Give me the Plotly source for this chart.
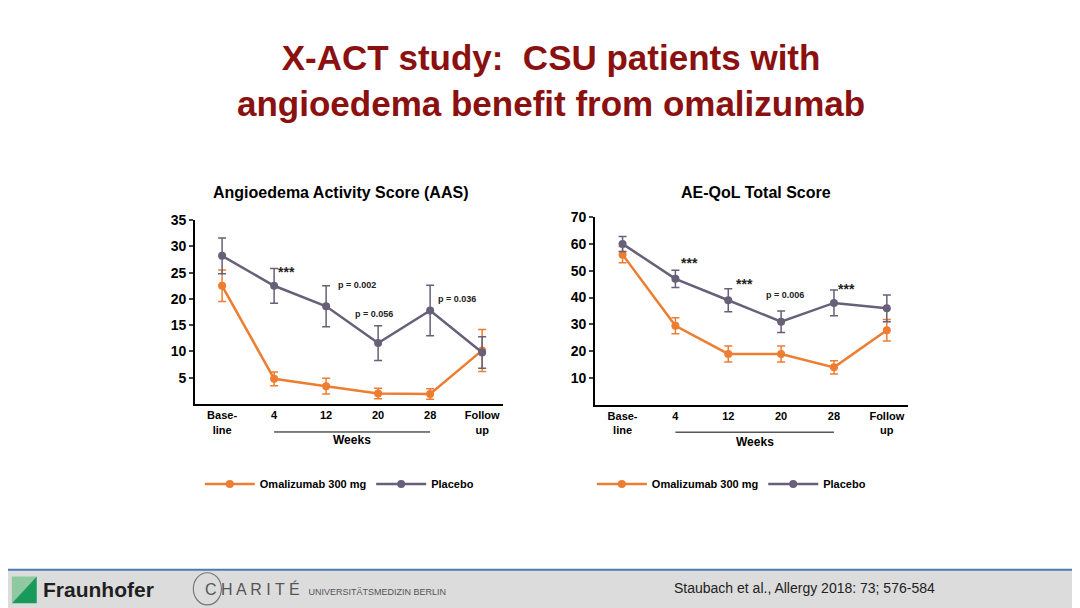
import plotly.graph_objects as go

cats = ["<b>Base-</b><br><b>line</b>", "<b>4</b>", "<b>12</b>", "<b>20</b>", "<b>28</b>", "<b>Follow</b><br><b>up</b>"]
aas_oma = [22.5, 4.8, 3.4, 2.0, 1.9, 10.2]
aas_oma_err = [3.0, 1.3, 1.5, 1.0, 1.0, 4.0]
aas_pla = [28.2, 22.5, 18.6, 11.6, 17.8, 9.8]
aas_pla_err = [3.4, 3.3, 3.9, 3.3, 4.8, 3.0]
qol_oma = [56.0, 29.5, 19.0, 19.0, 14.0, 27.8]
qol_oma_err = [3.0, 3.0, 3.0, 3.0, 2.5, 4.0]
qol_pla = [60.0, 47.0, 39.0, 31.0, 38.0, 36.0]
qol_pla_err = [2.8, 3.2, 4.3, 4.0, 4.8, 5.0]
# (x index, y value, text, font size, xanchor, xshift, yshift)
aas_notes = [(1, 22.5, "***", 14, "left", 2, 4), (2, 18.6, "p = 0.002", 9, "left", 10, 14),
             (3, 11.6, "p = 0.056", 9, "center", -4, 22), (4, 17.8, "p = 0.036", 9, "left", 6, 4)]
qol_notes = [(1, 47.0, "***", 14, "left", 4, 6), (2, 39.0, "***", 14, "left", 6, 6),
             (3, 31.0, "p = 0.006", 9, "center", 4, 20), (4, 38.0, "***", 14, "left", 2, 4)]

ORANGE = "#ED7D31"
GRAY = "#676078"
x = list(range(6))
DX, DY = -8 / 1080, 8 / 608  # compensate page offset

fig = go.Figure()
def add(xa, ya, y, e, name, color, legend):
    fig.add_trace(go.Scatter(x=x, y=y, xaxis=xa, yaxis=ya, name=name, mode="lines+markers",
        line=dict(color=color, width=2.5), marker=dict(color=color, size=8),
        error_y=dict(array=e, color=color, thickness=1.5, width=4),
        legend=legend, showlegend=True))

add("x", "y", aas_oma, aas_oma_err, "<b>Omalizumab 300 mg</b>", ORANGE, "legend")
add("x", "y", aas_pla, aas_pla_err, "<b>Placebo</b>", GRAY, "legend")
add("x2", "y2", qol_oma, qol_oma_err, "<b>Omalizumab 300 mg</b>", ORANGE, "legend2")
add("x2", "y2", qol_pla, qol_pla_err, "<b>Placebo</b>", GRAY, "legend2")

axfont = dict(family="Liberation Sans", size=14, color="black", weight="bold")
xcommon = dict(tickmode="array", tickvals=x, ticktext=cats, showline=True, linecolor="black",
               linewidth=2, ticks="", showgrid=False, zeroline=False, range=[-0.52, 5.4],
               tickfont=dict(family="Liberation Sans", size=11, color="black"))
ycommon = dict(showline=True, linecolor="black", linewidth=2, ticks="outside", ticklen=4,
               tickwidth=1.5, showgrid=False, zeroline=False, tickfont=axfont)
lfont = dict(family="Liberation Sans", size=11, color="black")
fig.update_layout(
    width=1080, height=608, margin=dict(l=0, r=0, t=0, b=0, autoexpand=False),
    plot_bgcolor="white", paper_bgcolor="white",
    xaxis=dict(domain=[0.1806 + DX, 0.4657 + DX], anchor="y", **xcommon),
    yaxis=dict(domain=[0.3355 + DY, 0.638 + DY], anchor="x", range=[0, 35], tickvals=[5, 10, 15, 20, 25, 30, 35], **ycommon),
    xaxis2=dict(domain=[0.551 + DX, 0.8407 + DX], anchor="y2", **xcommon),
    yaxis2=dict(domain=[0.334 + DY, 0.643 + DY], anchor="x2", range=[0, 70], tickvals=[10, 20, 30, 40, 50, 60, 70], **ycommon),
    legend=dict(orientation="h", x=0.185 + DX, y=0.204 + DY, xanchor="left", yanchor="middle", font=lfont, itemwidth=50),
    legend2=dict(orientation="h", x=0.548 + DX, y=0.204 + DY, xanchor="left", yanchor="middle", font=lfont, itemwidth=50),
)

def pa(text, px, py, size, color="black", family="Liberation Sans", xanchor="center"):
    return dict(text=text, x=px + DX, y=py + DY, xref="paper", yref="paper", showarrow=False,
                xanchor=xanchor, yanchor="middle", font=dict(family=family, size=size, color=color))

ann = [
    pa("<b>X-ACT study:  CSU patients with<br>angioedema benefit from omalizumab</b>", 0.51, 0.868, 35, "#8B1010"),
    pa("<b>Angioedema Activity Score (AAS)</b>", 0.315, 0.684, 16),
    pa("<b>AE-QoL Total Score</b>", 0.70, 0.684, 16),
    pa("Staubach et al., Allergy 2018: 73; 576-584", 0.745, 0.033, 14, "#222", "Liberation Sans Narrow, Liberation Sans"),
    pa("<b>Fraunhofer</b>", 0.038, 0.03, 21, "#1f1f1f", xanchor="left"),
    pa("C H A R I T É  <span style='font-size:9px'>UNIVERSITÄTSMEDIZIN BERLIN</span>", 0.188, 0.032, 16, "#555", xanchor="left"),
]
for xr, yr, notes in [("x", "y", aas_notes), ("x2", "y2", qol_notes)]:
    for xi, yi, t, s, xa, xs, ys in notes:
        ann.append(dict(text="<b>%s</b>" % t, x=xi, y=yi, xref=xr, yref=yr, showarrow=False,
                        xanchor=xa, yanchor="bottom", xshift=xs, yshift=ys,
                        font=dict(family="Liberation Sans", size=s, color="#222")))
    ann.append(dict(text="<b>Weeks</b>", x=2.5, y=-0.195, xref=xr, yref=yr + " domain", yanchor="middle",
                    showarrow=False, font=dict(family="Liberation Sans", size=12, color="black")))
fig.update_layout(annotations=ann)

def pp(path):
    return path
shapes = [
    dict(type="line", xref="x", yref="y domain", x0=1, x1=4, y0=-0.152, y1=-0.152, line=dict(color="black", width=1)),
    dict(type="line", xref="x2", yref="y2 domain", x0=1, x1=4, y0=-0.145, y1=-0.145, line=dict(color="black", width=1)),
    dict(type="rect", xref="paper", yref="paper", x0=-0.01, x1=1.01, y0=-0.02, y1=0.0625 + DY, fillcolor="#dcdcdc", line=dict(width=0), layer="below"),
    dict(type="line", xref="paper", yref="paper", x0=-0.01, x1=1.01, y0=0.063 + DY, y1=0.063 + DY, line=dict(color="#4a7bb5", width=2)),
    dict(type="path", xref="paper", yref="paper",
         path="M %f %f L %f %f L %f %f Z" % (0.011 + DX, 0.008 + DY, 0.011 + DX, 0.052 + DY, 0.034 + DX, 0.052 + DY),
         fillcolor="#8fc9a0", line=dict(width=0)),
    dict(type="path", xref="paper", yref="paper",
         path="M %f %f L %f %f L %f %f Z" % (0.011 + DX, 0.008 + DY, 0.034 + DX, 0.052 + DY, 0.034 + DX, 0.008 + DY),
         fillcolor="#1a9a5a", line=dict(width=0)),
    dict(type="circle", xref="paper", yref="paper", x0=0.179 + DX, x1=0.205 + DX, y0=0.005 + DY, y1=0.058 + DY, line=dict(color="#777", width=1.2)),
]
fig.update_layout(shapes=shapes)
fig.write_html("out.html")
